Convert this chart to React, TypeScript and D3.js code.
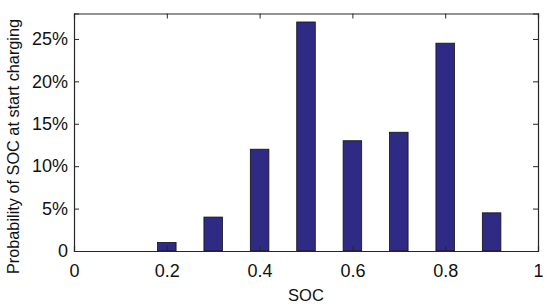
import React, { useEffect, useRef } from "react";
import * as d3 from "d3";

const soc = [0.2, 0.3, 0.4, 0.5, 0.6, 0.7, 0.8, 0.9];
const prob = [0.01, 0.04, 0.12, 0.27, 0.13, 0.14, 0.245, 0.045];
const xTicks = [0, 0.2, 0.4, 0.6, 0.8, 1];
const yTicks = [0, 0.05, 0.1, 0.15, 0.2, 0.25];

const W = 550;
const H = 307;

export default function App() {
  const ref = useRef<SVGSVGElement>(null);

  useEffect(() => {
    const svg = d3.select(ref.current);
    svg.selectAll("*").remove();
    const m = { left: 74, top: 13.5, right: 12, bottom: 56 };
    const x = d3.scaleLinear().domain([0, 1]).range([m.left, W - m.right]);
    const y = d3.scaleLinear().domain([0, 0.28]).range([H - m.bottom, m.top]);
    const font = "'Liberation Sans', Arial, Helvetica, sans-serif";
    const axisColor = "#262626";
    const bw = x(0.04) - x(0);

    svg.append("g")
      .selectAll("rect")
      .data(soc)
      .enter()
      .append("rect")
      .attr("x", (d) => x(d) - bw / 2)
      .attr("width", bw)
      .attr("y", (d, i) => y(prob[i]))
      .attr("height", (d, i) => y(0) - y(prob[i]))
      .attr("fill", "#2f2a84")
      .attr("stroke", "#111")
      .attr("stroke-width", 0.8);

    const fmt = (v: number) => (v === 0 ? "0" : Math.round(v * 100) + "%");

    const bottom = svg.append("g")
      .attr("transform", `translate(0,${y(0)})`)
      .call(d3.axisBottom(x).tickValues(xTicks).tickSize(-5).tickPadding(13).tickFormat((d) => String(d)));
    const left = svg.append("g")
      .attr("transform", `translate(${x(0)},0)`)
      .call(d3.axisLeft(y).tickValues(yTicks).tickSize(-5).tickPadding(6).tickFormat((d) => fmt(+d)));
    const top = svg.append("g")
      .attr("transform", `translate(0,${y(0.28)})`)
      .call(d3.axisTop(x).tickValues(xTicks).tickSize(-5).tickFormat(() => ""));
    const right = svg.append("g")
      .attr("transform", `translate(${x(1)},0)`)
      .call(d3.axisRight(y).tickValues(yTicks).tickSize(-5).tickFormat(() => ""));

    [bottom, left, top, right].forEach((g) => {
      g.select(".domain").attr("stroke", axisColor).attr("stroke-width", 1.2);
      g.selectAll(".tick line").attr("stroke", axisColor);
      g.selectAll("text").attr("fill", "#111").style("font-family", font).style("font-size", "18px");
    });

    svg.append("text")
      .attr("x", (x(0) + x(1)) / 2)
      .attr("y", 301)
      .attr("text-anchor", "middle")
      .style("font-family", font)
      .style("font-size", "16.5px")
      .attr("fill", "#111")
      .text("SOC");

    svg.append("text")
      .attr("transform", `translate(19,146.5) rotate(-90)`)
      .attr("text-anchor", "middle")
      .style("font-family", font)
      .style("font-size", "16.3px")
      .attr("fill", "#111")
      .text("Probability of SOC at start charging");
  }, []);

  return (
    <svg
      ref={ref}
      width={W}
      height={H}
      style={{ position: "absolute", left: 0, top: 0, background: "#fff" }}
    />
  );
}
